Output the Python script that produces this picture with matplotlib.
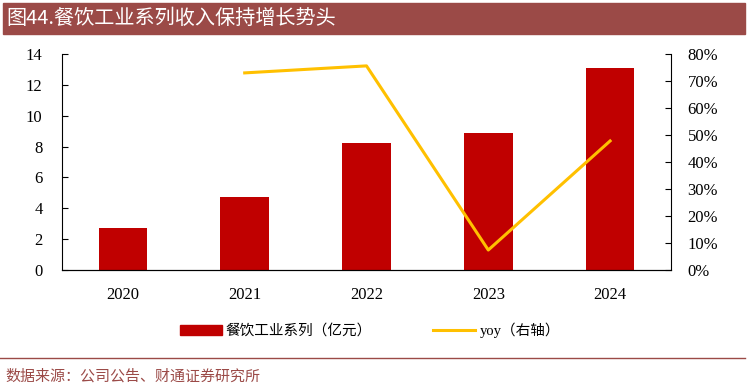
import matplotlib.pyplot as plt
from matplotlib.patches import Rectangle
from matplotlib.lines import Line2D

plt.rcParams['font.family'] = ['Liberation Serif', 'Noto Sans CJK SC', 'DejaVu Sans']

# Data
years = ['2020', '2021', '2022', '2023', '2024']
revenue = [2.7, 4.7, 8.25, 8.85, 13.1]          # 亿元
yoy_years = ['2021', '2022', '2023', '2024']
yoy = [0.73, 0.756, 0.074, 0.478]

bar_color = '#C00000'
line_color = '#FFC000'
brown = '#9B4A47'

fig = plt.figure(figsize=(7.48, 3.88), dpi=100)

# Title bar
fig.patches.append(Rectangle((3 / 748, 1 - 34 / 388), 742 / 748, 31 / 388,
                             transform=fig.transFigure, color=brown, zorder=0))
fig.text(6 / 748, 1 - 19 / 388, '图44.餐饮工业系列收入保持增长势头', color='white',
         fontsize=14.5, va='center', ha='left',
         family=['Noto Sans CJK SC', 'DejaVu Sans'])

ax = fig.add_axes([62 / 748, 1 - 270 / 388, 609 / 748, 216 / 388])
x = list(range(len(years)))
ax.bar(x, revenue, width=0.4, color=bar_color, zorder=2)
ax.set_xlim(-0.5, len(years) - 0.5)
ax.set_ylim(0, 14)
ax.set_yticks(range(0, 15, 2))
ax.set_xticks(x)
ax.set_xticklabels(years)
ax.tick_params(axis='y', direction='in', length=4, labelsize=12, pad=14)
ax.tick_params(axis='x', length=0, labelsize=12, pad=12)
ax.spines['top'].set_visible(False)
ax.spines['right'].set_visible(False)

ax2 = ax.twinx()
yx = [years.index(y) for y in yoy_years]
ax2.plot(yx, yoy, color=line_color, linewidth=2.2, zorder=3)
ax2.set_ylim(0, 0.8)
ax2.set_yticks([i / 10 for i in range(9)])
ax2.set_yticklabels([f'{i * 10}%' for i in range(9)])
ax2.tick_params(axis='y', direction='in', length=4, labelsize=12, pad=12)
ax2.spines['top'].set_visible(False)
ax2.spines['left'].set_visible(False)

# Legend
handles = [Rectangle((0, 0), 1, 1, color=bar_color),
           Line2D([0], [0], color=line_color, linewidth=2.2)]
fig.legend(handles, ['餐饮工业系列（亿元）', 'yoy（右轴）'],
           loc='center left', bbox_to_anchor=(180 / 748, 1 - 330 / 388), ncol=2,
           frameon=False, handlelength=2.85, handletextpad=0.3,
           columnspacing=4.2, borderpad=0, borderaxespad=0,
           prop={'family': ['Liberation Serif', 'Noto Sans CJK SC'], 'size': 10.5})

# Separator and source
fig.add_artist(Line2D([0, 745 / 748], [1 - 358 / 388] * 2, color=brown,
                      linewidth=1, transform=fig.transFigure))
fig.text(5 / 748, 1 - 376 / 388, '数据来源：公司公告、财通证券研究所', color=brown,
         fontsize=10.8, va='center', ha='left',
         family=['Noto Sans CJK SC', 'DejaVu Sans'])

fig.savefig('out.png', dpi=100)
